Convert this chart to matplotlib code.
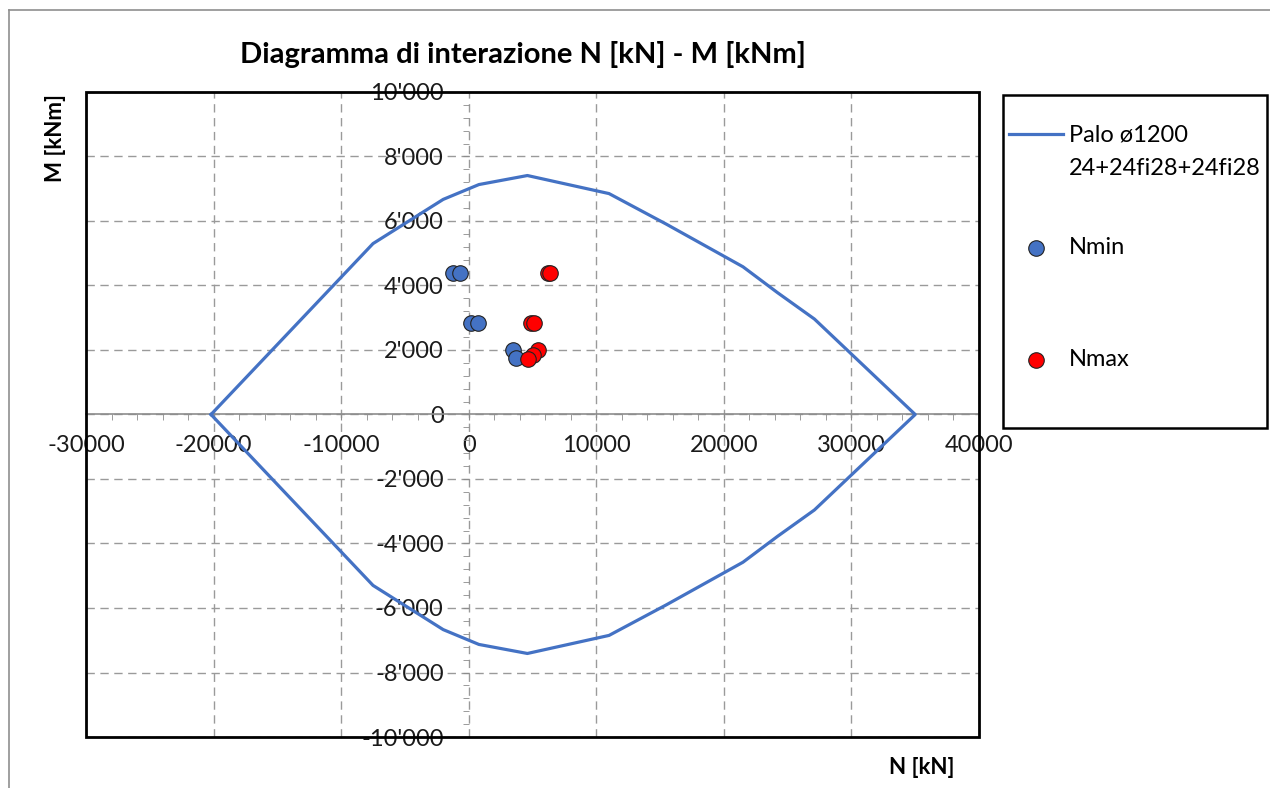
import matplotlib.pyplot as plt
import numpy as np
from matplotlib.patches import Rectangle
from matplotlib.lines import Line2D
from matplotlib.ticker import MultipleLocator, FuncFormatter

plt.rcParams['font.family'] = ['Lato', 'DejaVu Sans']

# dominio di interazione (metà superiore, N crescente)
n_top = [-20200, -7500, -2000, 800, 4600, 11000, 15500, 21500, 24200, 27100, 35000]
m_top = [0, 5300, 6670, 7130, 7410, 6850, 5900, 4580, 3780, 2960, 0]

# sollecitazioni
n_min = [-1250, -650, 150, 700, 3500, 3700]
m_min = [4400, 4400, 2850, 2850, 2000, 1750]
n_max = [6200, 6400, 4850, 5100, 5400, 5000, 4650]
m_max = [4400, 4400, 2850, 2850, 2000, 1830, 1710]

curve_label = ['Palo ø1200', '24+24fi28+24fi28']

# chiusura del dominio: metà inferiore speculare
n_dom = np.array(n_top + n_top[::-1][1:])
m_dom = np.array(m_top + [-m for m in m_top[::-1][1:]])

W, H = 1270, 788
fig = plt.figure(figsize=(W / 100, H / 100), dpi=100)
ax = fig.add_axes([86 / W, 1 - 737 / H, 893 / W, 645 / H])

grid_col = '#9a9a9a'
blue = '#4472C4'

ax.plot(n_dom, m_dom, color=blue, lw=2.3, zorder=3, label=curve_label[0])
ax.scatter(n_min, m_min, s=125, color=blue, edgecolors='#222222', linewidths=0.8,
           zorder=4, label='Nmin')
ax.scatter(n_max, m_max, s=125, color='#FF0000', edgecolors='#222222', linewidths=0.8,
           zorder=5, label='Nmax')

ax.set_xlim(-30000, 40000)
ax.set_ylim(-10000, 10000)
ax.xaxis.set_major_locator(MultipleLocator(10000))
ax.xaxis.set_minor_locator(MultipleLocator(2000))
ax.yaxis.set_major_locator(MultipleLocator(2000))
ax.yaxis.set_minor_locator(MultipleLocator(400))
ax.xaxis.set_major_formatter(FuncFormatter(lambda v, p: f'{int(round(v))}'))
ax.yaxis.set_major_formatter(FuncFormatter(lambda v, p: f'{int(round(v)):,}'.replace(',', "'")))

ax.grid(True, which='major', color=grid_col, ls=(0, (6, 4)), lw=1.0, zorder=1)

# assi che si incrociano nell'origine
ax.spines['left'].set_position(('data', 0))
ax.spines['bottom'].set_position(('data', 0))
ax.spines['left'].set_visible(False)
ax.spines['bottom'].set_color('#8c8c8c')
ax.spines['bottom'].set_linewidth(1.2)
ax.spines['top'].set_visible(False)
ax.spines['right'].set_visible(False)

ax.tick_params(axis='both', which='both', direction='out', color='#8c8c8c',
               labelsize=17, labelcolor='#1a1a1a', length=4)
ax.tick_params(axis='x', which='major', pad=11)
ax.tick_params(axis='y', which='major', pad=14)

# cornice dell'area del grafico
ax.add_patch(Rectangle((0, 0), 1, 1, transform=ax.transAxes, fill=False,
                       edgecolor='black', lw=2.0, clip_on=False, zorder=6))

fig.text(523 / W, 1 - 55 / H, 'Diagramma di interazione N [kN] - M [kNm]',
         ha='center', va='center', fontsize=21, fontweight='bold')
fig.text(55 / W, 1 - 138 / H, 'M [kNm]', rotation=90, ha='center', va='center',
         fontsize=16, fontweight='bold')
fig.text(922 / W, 1 - 768 / H, 'N [kN]', ha='center', va='center',
         fontsize=16, fontweight='bold')

# riquadro legenda
fig.patches.append(Rectangle((1003 / W, 1 - 428 / H), 264 / W, 333 / H,
                             transform=fig.transFigure, fill=False,
                             edgecolor='black', lw=1.8))
leg = fig.legend(loc='upper left', bbox_to_anchor=(1009 / W, 1 - 125 / H),
                 frameon=False, fontsize=17, labelspacing=3.85, handlelength=2.3,
                 handletextpad=0.25, borderpad=0, borderaxespad=0,
                 markerscale=1.0)

# seconda riga dell'etichetta della curva, sotto la prima
fig.canvas.draw()
bb = leg.get_texts()[0].get_window_extent()
fig.text(bb.x0 / W, (bb.y0 + bb.height / 2 - 33) / H, curve_label[1],
         ha='left', va='center', fontsize=17)

# bordo esterno del grafico
fig.add_artist(Line2D([9 / W, 1], [1 - 10 / H, 1 - 10 / H], transform=fig.transFigure,
                      color='#8f8f8f', lw=1.2))
fig.add_artist(Line2D([9 / W, 9 / W], [0, 1 - 10 / H], transform=fig.transFigure,
                      color='#8f8f8f', lw=1.2))

fig.savefig('out.png', dpi=100)
